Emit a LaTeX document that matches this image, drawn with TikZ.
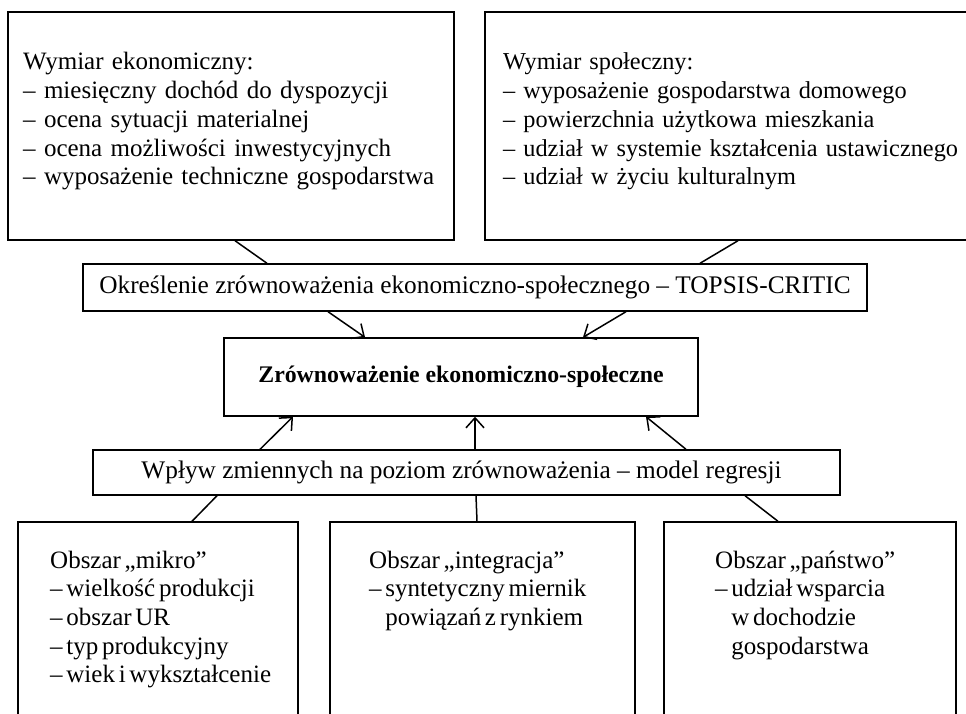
\documentclass[tikz,border=0pt]{standalone}
\usepackage{fontspec}
\setmainfont{Liberation Serif}
\usetikzlibrary{arrows.meta}
\tikzset{
  box/.style={draw, line width=1.4pt, inner sep=0pt, minimum height=#1},
  box/.default=45pt,
  label/.style={inner sep=0pt, font={\fontsize{25.3}{28.7}\selectfont}},
  listtext/.style={inner sep=0pt, anchor=base west, align=left, text width=#1, font={\fontsize{25}{28.7}\selectfont}},
  smalllist/.style={listtext=#1, execute at begin node={\spaceskip=0.15em\relax}},
  link/.style={line width=1.5pt},
  arr/.style={line width=1.5pt, -{Straight Barb[length=10pt,width=18pt,line width=1.5pt]}},
}
\begin{document}
\begin{tikzpicture}[x=1pt,y=-1pt]
\useasboundingbox (0,0) rectangle (966,714);
\clip (0,0) rectangle (966,714);
\fill[white] (0,0) rectangle (966,714);

% boxes
\node[box=228pt, minimum width=446pt] (ekon) at (231,126) {};
\node[box=228pt, minimum width=515pt] (spol) at (742.5,126) {};
\node[box=47pt, minimum width=784pt, label] (topsis) at (475,287.5) {Określenie zrównoważenia ekonomiczno-społecznego – TOPSIS-CRITIC};
\node[box=78pt, minimum width=474pt, inner sep=0pt, font={\fontsize{23.8}{26}\selectfont\bfseries}] (zrow) at (461,377) {Zrównoważenie ekonomiczno-społeczne};
\node[box=45pt, minimum width=747pt, label] (regr) at (466.5,472.5) {\hspace*{-10pt}Wpływ zmiennych na poziom zrównoważenia – model regresji};
\node[box=238pt, minimum width=280pt] (mikro) at (158,641) {};
\node[box=238pt, minimum width=305pt] (integ) at (482.5,641) {};
\node[box=238pt, minimum width=292pt] (panst) at (810,641) {};

% texts
\node[listtext=430pt] (ekontxt) at (23,70) {Wymiar ekonomiczny:\\
– miesięczny dochód do dyspozycji\\
– ocena sytuacji materialnej\\
– ocena możliwości inwestycyjnych\\
– wyposażenie techniczne gospodarstwa};
\node[listtext=600pt, font={\fontsize{24.3}{28.7}\selectfont}] (spoltxt) at (503,70) {Wymiar społeczny:\\
– wyposażenie gospodarstwa domowego\\
– powierzchnia użytkowa mieszkania\\
– udział w systemie kształcenia ustawicznego\\
– udział w życiu kulturalnym};
\node[smalllist=245pt] (mikrotxt) at (50,568) {Obszar „mikro”\\
– wielkość produkcji\\
– obszar UR\\
– typ produkcyjny\\
– wiek i wykształcenie};
\node[smalllist=260pt] (integtxt) at (369,568) {Obszar „integracja”\\
– syntetyczny miernik\\
\phantom{–}\hspace{0.15em}powiązań z rynkiem};
\node[smalllist=235pt] (panstxt) at (715,568) {Obszar „państwo”\\
– udział wsparcia\\
\phantom{–}\hspace{0.15em}w dochodzie\\
\phantom{–}\hspace{0.15em}gospodarstwa};

% connectors
\draw[link] ([xshift=4pt]ekon.south) -- ([xshift=-208pt]topsis.north);
\draw[link] ([xshift=-4.5pt]spol.south) -- ([xshift=225pt]topsis.north);
\draw[arr] ([xshift=-147pt]topsis.south) -- ([xshift=-96pt]zrow.north);
\draw[arr] ([xshift=151pt]topsis.south) -- ([xshift=122pt]zrow.north);
\draw[arr] ([xshift=-206.5pt]regr.north) -- ([xshift=-168pt]zrow.south);
\draw[arr] ([xshift=8.5pt]regr.north) -- ([xshift=14pt]zrow.south);
\draw[arr] ([xshift=219.5pt]regr.north) -- ([xshift=185pt]zrow.south);
\draw[link] ([xshift=-249.5pt]regr.south) -- ([xshift=34pt]mikro.north);
\draw[link] ([xshift=9.5pt]regr.south) -- ([xshift=-5.5pt]integ.north);
\draw[link] ([xshift=278.5pt]regr.south) -- ([xshift=-32pt]panst.north);
\end{tikzpicture}
\end{document}
